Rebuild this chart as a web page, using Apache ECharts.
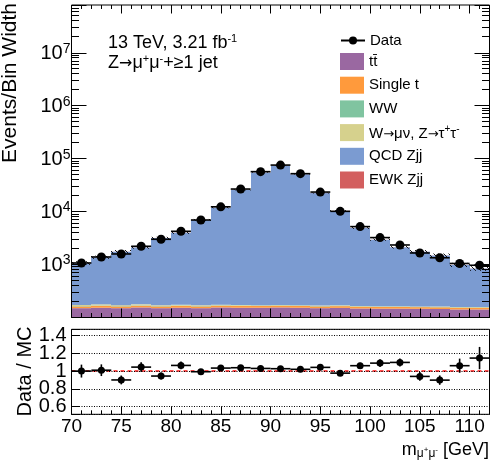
<!DOCTYPE html>
<html><head><meta charset="utf-8">
<script src="https://cdn.jsdelivr.net/npm/echarts@6/dist/echarts.min.js"></script>
<style>html,body{margin:0;padding:0;background:#fff;}#c{width:503px;height:466px;}</style>
</head><body><div id="c"></div>
<script>
// ---------------- data ----------------
const binCenters = [71,73,75,77,79,81,83,85,87,89,91,93,95,97,99,101,103,105,107,109,111];
const binHalfWidth = 1;
const dataValues = [1072,1391,1585,2215,3003,4250,6944,12320,26700,56880,75700,52120,23420,10130,5212,3231,2343,1655,1344,1049,970];
const ttbar = [150,153,150,155,150,153,150,155,153,153,155,153,150,152,148,147,147,146,145,142,142];
const singleTop = [12,13,12,12,12,12,12,12,12,12,12,12,12,12,12,11,11,11,11,11,11];
const ww = [3,3,3,3,3,3,3,3,3,3,3,3,3,3,3,3,3,3,3,3,3];
const wmunuZtautau = [7,8,6,7,5,6,5,5,4,3,3,3,3,3,2,2,2,2,2,2,2];
const qcdZjj = [895,1194,1583,1934,2999,3803,6796,11692,25451,54842,73257,50737,22218,10158,4727,2788,1961,1592,1330,826,684];
const ewkZjj = [5,6,7,9,12,17,27,48,100,210,280,190,90,40,20,13,10,7,6,5,4];
const mcUncFrac = [0.08,0.07,0.07,0.06,0.05,0.05,0.04,0.03,0.02,0.015,0.015,0.015,0.02,0.03,0.04,0.05,0.06,0.07,0.08,0.09,0.1];
const ratioValues = [1.00,1.01,0.90,1.045,0.944,1.064,0.993,1.034,1.038,1.03,1.027,1.02,1.042,0.977,1.061,1.09,1.098,0.94,0.898,1.061,1.147];
const ratioErrors = [0.073,0.066,0.05,0.056,0.04,0.043,0.02,0.015,0.01,0.01,0.01,0.01,0.012,0.02,0.034,0.043,0.045,0.05,0.053,0.08,0.126];
const xTickLabels = [70,75,80,85,90,95,100,105,110];
const ratioTickLabels = [0.6,0.8,1,1.2,1.4];
const mainTickExponents = [3,4,5,6,7];

// ---------------- layout / style ----------------
const FF = "'Liberation Sans', Arial, Helvetica, sans-serif";
const FA = "'DejaVu Sans', sans-serif";
const X_MIN = 70, X_MAX = 112;
const Y_MIN = 100, Y_MAX = 8e7;
const R_MIN = 0.512, R_MAX = 1.472;

const layers = [
  {name:'tt\u0304', values:ttbar, color:'#9a68a1'},
  {name:'Single t', values:singleTop, color:'#ff9a3c'},
  {name:'WW', values:ww, color:'#80c4a0'},
  {name:'W\u2192\u03bc\u03bd, Z\u2192\u03c4\u207a\u03c4\u207b', values:wmunuZtautau, color:'#d6d18d'},
  {name:'QCD Zjj', values:qcdZjj, color:'#7b9bd1'},
  {name:'EWK Zjj', values:ewkZjj, color:'#d35f5f'}
];

const chart = echarts.init(document.getElementById('c'), null, {renderer:'canvas'});

function crisp(v){ return Math.round(v - 0.5) + 0.5; }

function stackSeries(li) {
  const L = layers[li];
  const items = binCenters.map((x, i) => {
    let base = 0;
    for (let k = 0; k < li; k++) base += layers[k].values[i];
    return [x, base + L.values[i], base];
  });
  return {
    type:'custom', name:L.name, xAxisIndex:1, yAxisIndex:0,
    itemStyle:{color:L.color}, encode:{x:0, y:1}, data:items, z:2, silent:true,
    renderItem:(params, api) => {
      const x = api.value(0), top = api.value(1), base = Math.max(api.value(2), Y_MIN);
      const p0 = api.coord([x - binHalfWidth, base]);
      const p1 = api.coord([x + binHalfWidth, top]);
      const x0 = Math.round(p0[0]), x1 = Math.round(p1[0]);
      return {type:'rect', shape:{x:x0, y:p1[1], width:x1 - x0, height:p0[1] - p1[1]}, style:{fill:L.color}};
    }
  };
}

// hatch pattern
const pc = document.createElement('canvas');
pc.width = 5; pc.height = 5;
const g = pc.getContext('2d');
g.strokeStyle = '#000'; g.lineWidth = 0.9;
g.beginPath(); g.moveTo(-1,-1); g.lineTo(6,6); g.moveTo(-1,4); g.lineTo(1,6); g.moveTo(4,-1); g.lineTo(6,1); g.stroke();
const hatch = {image:pc, repeat:'repeat'};

const totals = binCenters.map((x, i) => layers.reduce((s, L) => s + L.values[i], 0));

const minorLogTicks = [];
for (let d = 2; d <= 7; d++) for (let k = 2; k <= 9; k++) { const v = k * Math.pow(10, d); if (v < Y_MAX) minorLogTicks.push(v); }

function xAx(grid, pos, interval, len, showLabel) {
  return {
    type:'value', gridIndex:grid, position:pos, min:X_MIN, max:X_MAX, interval:interval,
    axisLine:{show:false},
    axisTick:{show:true, inside:true, length:len, lineStyle:{color:'#000', width:1}},
    axisLabel:{show:showLabel, color:'#000', fontSize:19, fontFamily:FF, margin:3,
      formatter:v => xTickLabels.indexOf(v) >= 0 ? String(v) : ''},
    splitLine:{show:false}, z:10
  };
}
function yLog(pos, showLabel) {
  return {
    type:'log', logBase:10, gridIndex:0, position:pos, min:Y_MIN, max:Y_MAX, splitNumber:6,
    axisLine:{show:false},
    axisTick:{show:true, inside:true, length:15, lineStyle:{color:'#000', width:1}},
    axisLabel:{show:showLabel, margin:1,
      formatter:v => { const e = Math.round(Math.log10(v)); if (Math.abs(v / Math.pow(10, e) - 1) > 1e-6 || mainTickExponents.indexOf(e) < 0) return ''; return '{b|10}{s|' + e + '}'; },
      rich:{ b:{fontSize:20, fontFamily:FF, color:'#000', lineHeight:22, verticalAlign:'bottom'},
             s:{fontSize:14, fontFamily:FF, color:'#000', lineHeight:14, verticalAlign:'top'} }},
    splitLine:{show:false}, z:10
  };
}

const annRich = {
  n:{fontSize:18, fontFamily:FF, fill:'#000', lineHeight:20, verticalAlign:'middle'},
  a:{fontSize:16, fontFamily:FA, fill:'#000', lineHeight:20, verticalAlign:'middle'},
  sup:{fontSize:11, fontFamily:FF, fill:'#000', lineHeight:14, verticalAlign:'top'}
};

const option = {
  animation:false,
  backgroundColor:'#fff',
  grid:[
    {left:71.5, top:5, width:418, height:312.5, show:true, borderColor:'#000', borderWidth:1, backgroundColor:'transparent', z:8},
    {left:71.5, top:329.3, width:418, height:85, show:true, borderColor:'#000', borderWidth:1, backgroundColor:'transparent', z:8}
  ],
  xAxis:[
    xAx(0,'bottom',1,4.5,false),
    xAx(0,'bottom',5,9,false),
    xAx(0,'top',1,4,false),
    xAx(0,'top',5,8.5,false),
    xAx(1,'bottom',1,4,false),
    xAx(1,'bottom',5,8,true)
  ],
  yAxis:[
    yLog('left', true),
    yLog('right', false),
    {type:'value', gridIndex:1, position:'left', min:R_MIN, max:R_MAX, splitNumber:5,
     axisLine:{show:false},
     axisTick:{show:true, inside:true, length:8, lineStyle:{color:'#000', width:1}},
     axisLabel:{color:'#000', fontSize:20, fontFamily:FF, margin:5,
       formatter:v => { for (const t of ratioTickLabels) if (Math.abs(v - t) < 1e-6) return String(t); return ''; }},
     splitLine:{show:true, lineStyle:{color:'#000', type:[1,1.5], width:1}}, z:10}
  ],
  legend:[
    {data:['Data'], orient:'vertical', left:335, top:28, itemWidth:24, itemHeight:10, selectedMode:false,
     textStyle:{fontSize:15, fontFamily:FF, color:'#000'}},
    {data:layers.map(L => ({name:L.name, icon:'rect'})), orient:'vertical', left:335, top:48, itemWidth:24, itemHeight:17, itemGap:6.7, selectedMode:false,
     textStyle:{fontSize:15, fontFamily:FF, color:'#000',
       rich:{n:{fontSize:15, fontFamily:FF, color:'#000', lineHeight:17, verticalAlign:'bottom'},
             a:{fontSize:13, fontFamily:FA, color:'#000', lineHeight:17, verticalAlign:'bottom'},
             sup:{fontSize:10, fontFamily:FF, color:'#000', lineHeight:10, verticalAlign:'top'}}},
     formatter:name => name === layers[3].name ? '{n|W}{a|\u2192}{n|\u03bc\u03bd, Z}{a|\u2192}{n|\u03c4}{sup|+}{n|\u03c4}{sup|-}' : name}
  ],
  series:[
    ...layers.map((L, i) => stackSeries(i)),
    {type:'custom', name:'MC unc', xAxisIndex:1, yAxisIndex:0, encode:{x:0, y:1}, z:3, silent:true,
     data:binCenters.map((x, i) => [x, totals[i] * (1 + mcUncFrac[i]), totals[i] * (1 - mcUncFrac[i])]),
     renderItem:(params, api) => {
       const x = api.value(0);
       const p0 = api.coord([x - binHalfWidth, api.value(2)]);
       const p1 = api.coord([x + binHalfWidth, api.value(1)]);
       return {type:'rect', shape:{x:Math.round(p0[0]), y:p1[1], width:Math.round(p1[0]) - Math.round(p0[0]), height:p0[1] - p1[1]}, style:{fill:hatch}};
     }},
    {type:'custom', name:'minor ticks', xAxisIndex:1, yAxisIndex:0, encode:{x:0, y:1}, z:10, silent:true,
     data:minorLogTicks.map(v => [X_MIN, v]),
     renderItem:(params, api) => {
       const v = api.value(1);
       const a = api.coord([X_MIN, v]), b = api.coord([X_MAX, v]);
       const y = crisp(a[1]);
       return {type:'group', children:[
         {type:'line', shape:{x1:a[0], y1:y, x2:a[0] + 7.5, y2:y}, style:{stroke:'#000', lineWidth:1}},
         {type:'line', shape:{x1:b[0], y1:y, x2:b[0] - 7.5, y2:y}, style:{stroke:'#000', lineWidth:1}}
       ]};
     }},
    {type:'line', name:'Data', xAxisIndex:1, yAxisIndex:0, data:[], symbol:'circle', symbolSize:9,
     lineStyle:{color:'#000', width:1.5}, itemStyle:{color:'#000'}},
    {type:'custom', name:'Data xerr', xAxisIndex:1, yAxisIndex:0, encode:{x:0, y:1}, z:5, silent:true,
     data:binCenters.map((x, i) => [x, dataValues[i]]),
     renderItem:(params, api) => {
       const x = api.value(0), v = api.value(1);
       const a = api.coord([x - binHalfWidth, v]), b = api.coord([x + binHalfWidth, v]);
       return {type:'line', shape:{x1:a[0], y1:a[1], x2:b[0], y2:b[1]}, style:{stroke:'#000', lineWidth:1.6}};
     }},
    {type:'scatter', name:'Data points', xAxisIndex:1, yAxisIndex:0, z:6, silent:true,
     data:binCenters.map((x, i) => [x, dataValues[i]]), symbol:'circle', symbolSize:9, itemStyle:{color:'#000', opacity:1}},
    {type:'custom', name:'Ratio err', xAxisIndex:5, yAxisIndex:2, encode:{x:0, y:1}, z:5, silent:true,
     data:binCenters.map((x, i) => [x, ratioValues[i], ratioErrors[i]]),
     markLine:{silent:true, symbol:'none', label:{show:false}, animation:false,
       lineStyle:{color:'#ff2a2a', type:[4,3], width:2, opacity:0.85}, data:[{yAxis:1}]},
     renderItem:(params, api) => {
       const x = api.value(0), r = api.value(1), e = api.value(2);
       const a = api.coord([x - binHalfWidth, r]), b = api.coord([x + binHalfWidth, r]);
       const c = api.coord([x, r + e]), d = api.coord([x, r - e]);
       return {type:'group', children:[
         {type:'line', shape:{x1:a[0], y1:a[1], x2:b[0], y2:b[1]}, style:{stroke:'#000', lineWidth:1.6}},
         {type:'line', shape:{x1:c[0], y1:c[1], x2:d[0], y2:d[1]}, style:{stroke:'#000', lineWidth:1.6}}
       ]};
     }},
    {type:'scatter', name:'Ratio points', xAxisIndex:5, yAxisIndex:2, z:6, silent:true,
     data:binCenters.map((x, i) => [x, ratioValues[i]]), symbol:'circle', symbolSize:7, itemStyle:{color:'#000', opacity:1}}
  ],
  graphic:[
    {type:'text', x:10, y:3, rotation:Math.PI/2, silent:true,
     style:{text:'Events/Bin Width', fontSize:21, fontFamily:FF, fill:'#000', align:'right', verticalAlign:'middle'}},
    {type:'text', x:25.5, y:371.5, rotation:Math.PI/2, silent:true,
     style:{text:'Data / MC', fontSize:20, fontFamily:FF, fill:'#000', align:'center', verticalAlign:'middle'}},
    {type:'text', x:108, y:43.5, silent:true,
     style:{text:'{n|13 TeV, 3.21 fb}{sup|-1}', fill:'#000', align:'left', verticalAlign:'middle', rich:annRich}},
    {type:'text', x:108, y:63.5, silent:true,
     style:{text:'{n|Z}{a|\u2192}{n|\u03bc}{sup|+}{n|\u03bc}{sup|-}{n|+\u22651 jet}', fill:'#000', align:'left', verticalAlign:'middle', rich:annRich}},
    {type:'text', x:489, y:450, silent:true,
     style:{text:'{n|m}{sub|\u03bc}{ss|+}{sub|\u03bc}{ss|-}{n| [GeV]}', fill:'#000', align:'right', verticalAlign:'middle',
       rich:{n:{fontSize:18, fontFamily:FF, fill:'#000', lineHeight:20, verticalAlign:'middle'},
             sub:{fontSize:12, fontFamily:FF, fill:'#000', lineHeight:12, verticalAlign:'bottom'},
             ss:{fontSize:8, fontFamily:FF, fill:'#000', lineHeight:8, verticalAlign:'middle'}}}}
  ]
};
chart.setOption(option);
</script>
</body></html>
